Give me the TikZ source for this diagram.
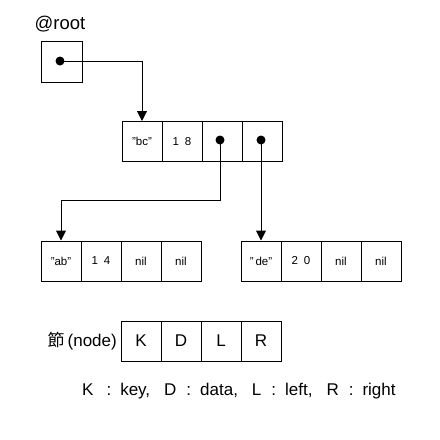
\documentclass[tikz,border=0pt]{standalone}
\usepackage{fontspec}
\setmainfont{Liberation Sans}
\newfontfamily\cjk{Noto Sans CJK JP}
\usetikzlibrary{arrows.meta}
\begin{document}
\begin{tikzpicture}[x=1pt,y=-1pt,
  cell/.style={draw,line width=1pt,minimum width=40pt,minimum height=40pt,inner sep=0pt,font=\fontsize{11.5}{13}\selectfont},
  bigcell/.style={cell,font=\fontsize{17}{20}\selectfont},
  rootbox/.style={draw,line width=1pt,minimum width=41pt,minimum height=41pt,inner sep=0pt},
  dot/.style={circle,fill=black,inner sep=0pt,minimum size=9pt},
  ptr/.style={line width=1pt,-{Triangle[width=10pt,length=10pt]}},
  lbl/.style={inner sep=0pt,font=\fontsize{17}{20}\selectfont}]
\useasboundingbox (0,0) rectangle (440,440);
% root
\node[lbl,font=\fontsize{18.5}{22}\selectfont] (rootlbl) at (60,24) {@root};
\node[rootbox] (root) at (61.5,61.5) {};
\node[dot] (rdot) at (60,61) {};
% bc node
\node[cell] (bc1) at (142,141.5) {"bc"};
\node[cell] (bc2) at (182,141.5) {1\hspace{6pt}8};
\node[cell] (bc3) at (222,141.5) {};
\node[cell] (bc4) at (262,141.5) {};
\node[dot] (dL) at (220,140) {};
\node[dot] (dR) at (261,140) {};
% ab node
\node[cell] (ab1) at (61,261) {"ab"};
\node[cell] (ab2) at (101,261) {1\hspace{6pt}4};
\node[cell] (ab3) at (141,261) {nil};
\node[cell] (ab4) at (181,261) {nil};
% de node
\node[cell] (de1) at (261,261) {"\,de"};
\node[cell] (de2) at (301,261) {2\hspace{6pt}0};
\node[cell] (de3) at (341,261) {nil};
\node[cell] (de4) at (381,261) {nil};
% pointers
\draw[ptr] (rdot.center) -| (bc1.north);
\draw[ptr] (dL.center) -- ++(0,60) -| (ab1.north);
\draw[ptr] (dR.center) -- (de1.north);
% legend
\node[bigcell] (k) at (141,341) {K};
\node[bigcell] (d) at (181,341) {D};
\node[bigcell] (l) at (221,341) {L};
\node[bigcell] (r) at (261,341) {R};
\node[lbl,anchor=east] (nodelbl) at (117,341) {{\cjk 節}\hspace{3pt}(node)};
\node[lbl,anchor=west] (legend) at (82,391) {K\hspace{13pt}:\hspace{9pt}key,\hspace{14pt}D\hspace{10pt}:\hspace{9pt}data,\hspace{14pt}L\hspace{10pt}:\hspace{9pt}left,\hspace{14pt}R\hspace{10pt}:\hspace{9pt}right};
\end{tikzpicture}
\end{document}
